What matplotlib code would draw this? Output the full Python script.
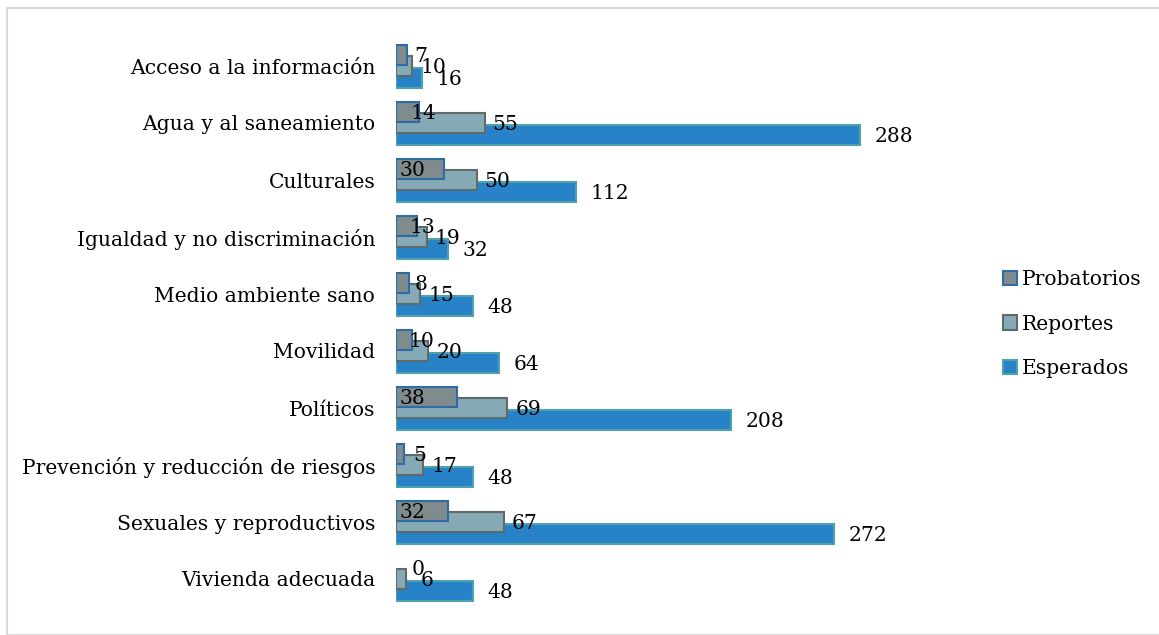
import matplotlib.pyplot as plt
from matplotlib.patches import Patch, Rectangle

categories = ["Acceso a la información", "Agua y al saneamiento", "Culturales",
              "Igualdad y no discriminación", "Medio ambiente sano", "Movilidad",
              "Políticos", "Prevención y reducción de riesgos",
              "Sexuales y reproductivos", "Vivienda adecuada"]
probatorios = [7, 14, 30, 13, 8, 10, 38, 5, 32, 0]
reportes = [10, 55, 50, 19, 15, 20, 69, 17, 67, 6]
esperados = [16, 288, 112, 32, 48, 64, 208, 48, 272, 48]

series_names = ["Probatorios", "Reportes", "Esperados"]
face = {"Probatorios": "#7f8b8c", "Reportes": "#85aab5", "Esperados": "#2882c8"}
edge = {"Probatorios": "#2e6ca6", "Reportes": "#5e6a6c", "Esperados": "#4fa2aa"}
shift = {"Probatorios": -0.2, "Reportes": 0.0, "Esperados": 0.21}
height = 0.35

plt.rcParams["font.family"] = ["DejaVu Serif"]

W, H = 1159, 635
fig = plt.figure(figsize=(W / 100, H / 100), dpi=100)
fig.patches.append(Rectangle((7 / W, 0), 1, 1 - 8 / H, transform=fig.transFigure,
                             fill=False, edgecolor="#d9d9d9", linewidth=1.5))

ax_left, ax_right = 396, 396 + 350 * 1.611
ax_top, ax_bot = 37.5, 607.5
ax = fig.add_axes([ax_left / W, 1 - ax_bot / H, (ax_right - ax_left) / W,
                   (ax_bot - ax_top) / H])

rows = list(range(len(categories)))
data = {"Probatorios": probatorios, "Reportes": reportes, "Esperados": esperados}

# back to front so the smaller series sit on top; zero values get no bar
for name in ["Esperados", "Reportes", "Probatorios"]:
    ys = [r + shift[name] for r, v in zip(rows, data[name]) if v > 0]
    vals = [v for v in data[name] if v > 0]
    ax.barh(ys, vals, height=height, color=face[name],
            edgecolor=edge[name], linewidth=1.5, zorder=2)

fs = 14.6
for r in rows:
    v = esperados[r]
    ax.text(v + 9, r + shift["Esperados"] + 0.03, str(v), ha="left", va="center",
            fontsize=fs, zorder=5)
    v = reportes[r]
    ax.text(max(v + 5, 15), r + shift["Reportes"] + 0.03, str(v), ha="left",
            va="center", fontsize=fs, zorder=5)
    v = probatorios[r]
    cx = 14 + 0.2 * v if v < 25 else 10
    ax.text(cx, r + shift["Probatorios"] + 0.03, str(v), ha="center", va="center",
            fontsize=fs, zorder=5)

ax.set_xlim(0, 350)
ax.set_ylim(len(categories) - 0.5, -0.5)
ax.set_yticks(rows)
ax.set_yticklabels(categories, fontsize=fs)
ax.tick_params(axis="y", length=0, pad=15)
ax.set_xticks([])
for s in ax.spines.values():
    s.set_visible(False)

handles = [Patch(facecolor=face[n], edgecolor=edge[n], linewidth=1.5, label=n)
           for n in series_names]
fig.legend(handles=handles, loc="center left", bbox_to_anchor=(985 / W, 1 - 324 / H),
           frameon=False, fontsize=fs, labelspacing=1.25, handlelength=0.7,
           handleheight=0.7, handletextpad=0.2)

fig.savefig("out.png", dpi=100)
